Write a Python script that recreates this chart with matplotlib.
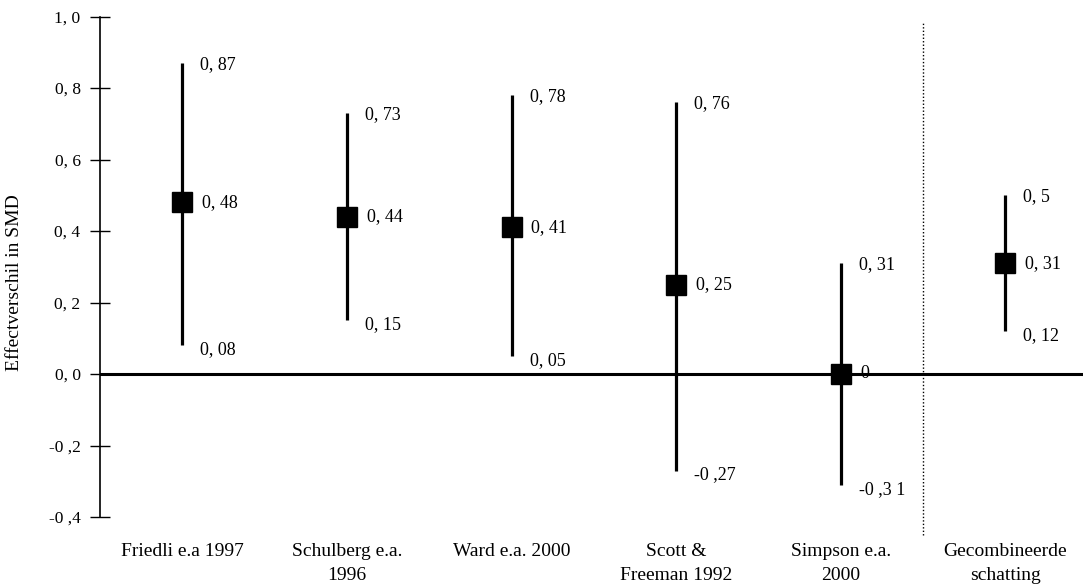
import matplotlib
matplotlib.use("Agg")
import matplotlib.pyplot as plt

categories = ["Friedli e.a 1997", "Schulberg e.a.\n1996", "Ward e.a. 2000",
              "Scott &\nFreeman 1992", "Simpson e.a.\n2000", "Gecombineerde\nschatting"]
estimates = [0.48, 0.44, 0.41, 0.25, 0.0, 0.31]
lower = [0.08, 0.15, 0.05, -0.27, -0.31, 0.12]
upper = [0.87, 0.73, 0.78, 0.76, 0.31, 0.50]
est_labels = ["0, 48", "0, 44", "0, 41", "0, 25", "0", "0, 31"]
low_labels = ["0, 08", "0, 15", "0, 05", "-0 ,27", "-0 ,3 1", "0, 12"]
up_labels = ["0, 87", "0, 73", "0, 78", "0, 76", "0, 31", "0, 5"]
yticks = [-0.4, -0.2, 0.0, 0.2, 0.4, 0.6, 0.8, 1.0]
ytick_labels = ["-0 ,4", "-0 ,2", "0, 0", "0, 2", "0, 4", "0, 6", "0, 8", "1, 0"]
ylabel = "Effectverschil in SMD"

plt.rcParams['font.family'] = ['Liberation Serif', 'DejaVu Serif']

W, H = 1083, 584
fig = plt.figure(figsize=(W / 100, H / 100), dpi=100)
left = 100 / W
bottom = (H - 517) / H
top = (H - 16.5) / H
ax = fig.add_axes([left, bottom, 1 - left, top - bottom])

xs = list(range(len(categories)))
for x, e, lo, hi in zip(xs, estimates, lower, upper):
    ax.plot([x, x], [lo, hi], color="black", lw=2.3, solid_capstyle="butt", zorder=3)
ax.plot(xs, estimates, linestyle="none", marker="s", markersize=14,
        color="black", zorder=4)

for x, e, lo, hi, el, ll, ul in zip(xs, estimates, lower, upper,
                                     est_labels, low_labels, up_labels):
    ax.text(x + 0.11, hi - 0.005, ul, ha="left", va="center", fontsize=13)
    ax.text(x + 0.12, e, el, ha="left", va="center", fontsize=13)
    ax.text(x + 0.11, lo - 0.012, ll, ha="left", va="center", fontsize=13)

ax.axhline(0, color="black", lw=2.2, zorder=2)
ax.plot([4.5, 4.5], [-0.45, 0.985], color="black", lw=1.0,
        linestyle=(0, (1, 1.5)), clip_on=False)

ax.set_xlim(-0.5, (W - 100) / 164.6 - 0.5)
ax.set_ylim(-0.4, 1.0)
ax.set_yticks(yticks)
ax.set_yticklabels(ytick_labels, fontsize=12.5)
ax.tick_params(axis="y", direction="inout", length=14, width=1, pad=7)
ax.set_xticks(xs)
ax.set_xticklabels(categories, fontsize=14, linespacing=1.5)
ax.tick_params(axis="x", length=0, pad=19)

for s in ["top", "right", "bottom"]:
    ax.spines[s].set_visible(False)
ax.spines["left"].set_linewidth(1.2)

fig.text(15 / W, 1 - 283 / H, ylabel, rotation=90, ha="center", va="center",
         fontsize=14)

fig.savefig("out.png", dpi=100)
